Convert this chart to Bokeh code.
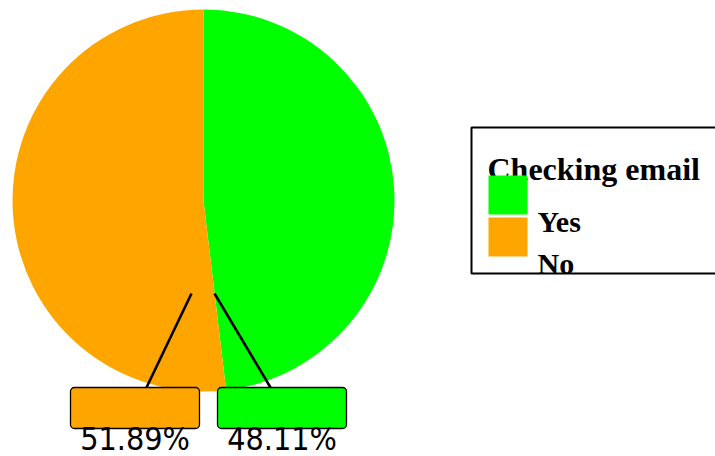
import numpy as np
from bokeh.plotting import figure
from bokeh.models import Range1d, ColumnDataSource
from bokeh.core.properties import value
from bokeh.embed import file_html
from bokeh.resources import INLINE

# ---- data ----
categories = ["Yes", "No"]
percents = [48.11, 51.89]
colors = ["#00ff00", "#ffa500"]
legend_title = "Checking email"

# ---- layout (pixels, top-left origin) ----
W, H = 715, 456
def Y(py):
    return H - np.asarray(py, dtype=float)

TXT_OFF = 9  # compensation for baseline rendering offset
cx, cy, r = 203, 200, 191
box_center_x = [281.5, 134.5]          # Yes, No
box_half_w = 64.5
box_top, box_bottom = 387, 428
line_start = [(214, 293), (191, 293)]   # Yes, No
line_end = [(270, 387), (146, 387)]
label_baseline = 447 - TXT_OFF

p = figure(width=W, height=H, output_backend="svg", toolbar_location=None,
           x_range=Range1d(0, W), y_range=Range1d(0, H), min_border=0)
p.axis.visible = False
p.grid.visible = False
p.outline_line_color = None
p.background_fill_color = "white"
p.border_fill_color = "white"

# pie (clockwise from 12 o'clock)
fr = np.array(percents) / sum(percents)
cum = np.cumsum(fr)
start_cw = np.pi / 2 - 2 * np.pi * (cum - fr)
end_cw = np.pi / 2 - 2 * np.pi * cum
pie_src = ColumnDataSource(dict(x=[cx] * len(fr), y=list(Y([cy] * len(fr))),
                                start=list(end_cw), end=list(start_cw),
                                color=colors, cat=categories))
p.wedge(x="x", y="y", radius=r, start_angle="start", end_angle="end",
        fill_color="color", line_color=None, source=pie_src)

# leader lines
p.segment(x0=[s[0] for s in line_start], y0=list(Y([s[1] for s in line_start])),
          x1=[e[0] for e in line_end], y1=list(Y([e[1] for e in line_end])),
          line_color="black", line_width=2.6)

# label boxes
lbl_src = ColumnDataSource(dict(
    left=[c - box_half_w for c in box_center_x],
    right=[c + box_half_w for c in box_center_x],
    top=list(Y([box_top] * 2)), bottom=list(Y([box_bottom] * 2)),
    color=colors, x=box_center_x, y=list(Y([label_baseline] * 2)),
    text=[f"{v:.2f}%" for v in percents]))
p.quad(left="left", right="right", top="top", bottom="bottom",
       fill_color="color", line_color="black", line_width=1.3,
       border_radius=4, source=lbl_src)
p.text(x="x", y="y", text="text", source=lbl_src, text_align="center",
       text_baseline="alphabetic",
       text_font=value("'DejaVu Sans Condensed', 'DejaVu Sans'"),
       text_font_size="32px", text_color="black")

# legend (manual)
p.quad(left=[471], right=[730], top=list(Y([127])), bottom=list(Y([273])),
       fill_color=None, line_color="black", line_width=2)
p.text(x=[487], y=list(Y([177 - TXT_OFF])), text=[legend_title], text_align="left",
       text_baseline="alphabetic", text_font=value("Liberation Serif"),
       text_font_style="bold", text_font_size="32px", text_color="black")
sw_top = [175, 217]
p.quad(left=[488] * 2, right=[527] * 2, top=list(Y(sw_top)),
       bottom=list(Y([t + 39 for t in sw_top])), fill_color=colors, line_color=None)
p.text(x=[537] * 2, y=list(Y([230 - TXT_OFF, 272 - TXT_OFF])), text=categories,
       text_align="left", text_baseline="alphabetic",
       text_font=value("Liberation Serif"), text_font_style="bold",
       text_font_size="30px", text_color="black")

open("out.html", "w").write(file_html(p, INLINE))
